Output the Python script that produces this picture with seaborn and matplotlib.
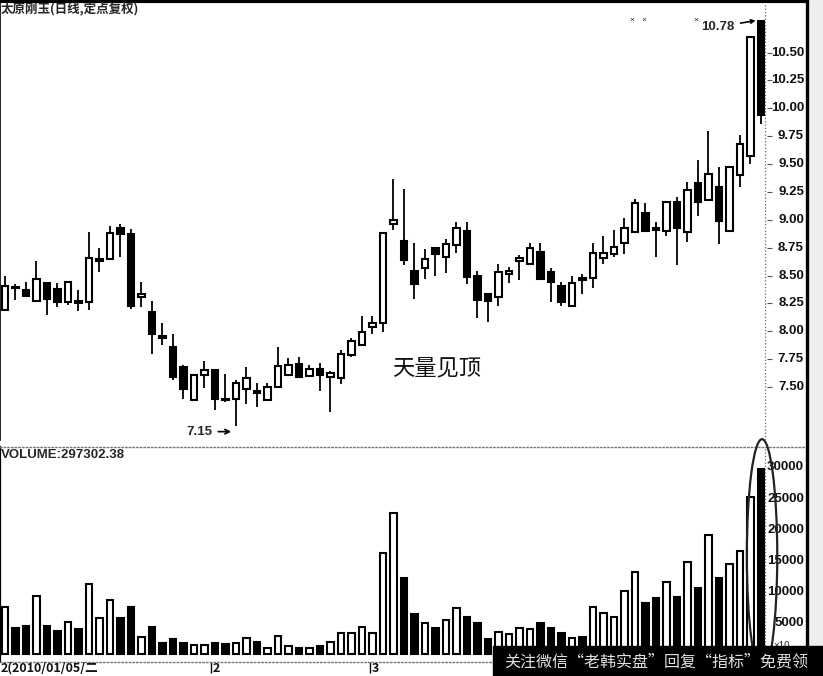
import numpy as np
import pandas as pd
import seaborn as sns
import matplotlib.pyplot as plt
from matplotlib import transforms
from matplotlib.patches import Ellipse, Rectangle
from matplotlib.lines import Line2D

sns.set_theme(style="white")
plt.rcParams['font.family'] = ['Noto Sans CJK SC', 'DejaVu Sans']

# daily bars (73 trading days)
opens = [8.19, 8.40, 8.37, 8.27, 8.43, 8.38, 8.26, 8.27, 8.26, 8.63,
         8.65, 8.93, 8.87, 8.31, 8.17, 7.96, 7.86, 7.68, 7.38, 7.61,
         7.65, 7.39, 7.39, 7.48, 7.46, 7.38, 7.50, 7.61, 7.71, 7.60,
         7.66, 7.59, 7.58, 7.79, 7.88, 8.04, 8.07, 8.96, 8.81, 8.54,
         8.57, 8.75, 8.67, 8.77, 8.90, 8.50, 8.33, 8.31, 8.51, 8.63,
         8.60, 8.71, 8.53, 8.41, 8.23, 8.48, 8.48, 8.66, 8.69, 8.79,
         8.89, 9.06, 8.93, 8.90, 9.16, 8.89, 9.33, 9.18, 9.29, 8.90,
         9.40, 9.57, 10.78]
highs = [8.50, 8.42, 8.44, 8.63, 8.43, 8.43, 8.44, 8.37, 8.89, 8.75,
         8.94, 8.96, 8.92, 8.44, 8.27, 8.07, 7.98, 7.70, 7.61, 7.73,
         7.65, 7.62, 7.56, 7.68, 7.54, 7.54, 7.86, 7.76, 7.77, 7.70,
         7.72, 7.64, 7.83, 7.94, 8.14, 8.14, 8.88, 9.37, 9.28, 8.79,
         8.74, 8.75, 8.83, 8.98, 8.98, 8.54, 8.33, 8.60, 8.58, 8.68,
         8.79, 8.79, 8.57, 8.44, 8.50, 8.51, 8.79, 8.85, 8.91, 9.02,
         9.19, 9.15, 8.98, 9.17, 9.20, 9.34, 9.54, 9.80, 9.47, 9.47,
         9.76, 10.64, 10.78]
lows = [8.18, 8.28, 8.31, 8.27, 8.15, 8.22, 8.24, 8.18, 8.19, 8.53,
        8.64, 8.67, 8.20, 8.22, 7.80, 7.88, 7.56, 7.39, 7.38, 7.49,
        7.29, 7.37, 7.15, 7.35, 7.32, 7.38, 7.50, 7.61, 7.59, 7.60,
        7.46, 7.28, 7.53, 7.77, 7.88, 7.98, 7.99, 8.91, 8.59, 8.29,
        8.47, 8.50, 8.52, 8.70, 8.42, 8.12, 8.08, 8.23, 8.43, 8.46,
        8.60, 8.47, 8.26, 8.23, 8.23, 8.33, 8.39, 8.60, 8.67, 8.69,
        8.88, 8.89, 8.67, 8.85, 8.59, 8.80, 9.03, 9.18, 8.78, 8.90,
        9.29, 9.50, 9.86]
closes = [8.41, 8.39, 8.32, 8.47, 8.29, 8.26, 8.44, 8.25, 8.66, 8.65,
          8.88, 8.87, 8.23, 8.33, 7.98, 7.94, 7.59, 7.48, 7.61, 7.65,
          7.39, 7.38, 7.54, 7.58, 7.45, 7.50, 7.69, 7.70, 7.59, 7.66,
          7.61, 7.63, 7.80, 7.91, 7.99, 8.07, 8.88, 9.00, 8.64, 8.42,
          8.65, 8.69, 8.78, 8.93, 8.49, 8.28, 8.27, 8.53, 8.54, 8.66,
          8.75, 8.47, 8.44, 8.26, 8.43, 8.46, 8.70, 8.70, 8.76, 8.93,
          9.15, 8.90, 8.91, 9.16, 8.93, 9.27, 9.16, 9.41, 8.99, 9.47,
          9.68, 10.64, 9.94]
# volume in units of 10 lots
volumes = [7580, 4190, 4510, 9350, 4510, 3710, 5160, 4030, 11290, 5800,
           8710, 5800, 7580, 2740, 4350, 1770, 2420, 1770, 1450, 1450,
           1770, 1610, 1770, 2580, 1930, 970, 2900, 1290, 970, 970,
           1290, 1930, 3380, 3380, 4350, 3380, 16290, 22740, 12260, 6450,
           5000, 4190, 5480, 7420, 5970, 5000, 2420, 3550, 3220, 4190,
           4030, 5000, 4190, 3380, 2580, 2740, 7580, 6610, 5970, 10160,
           13220, 8220, 9030, 11610, 9190, 14840, 10640, 19190, 12260, 14510,
           16610, 25320, 29730]

price_ticks = [7.50, 7.75, 8.00, 8.25, 8.50, 8.75, 9.00, 9.25, 9.50, 9.75, 10.00, 10.25, 10.50]
vol_ticks = [5000, 10000, 15000, 20000, 25000, 30000]
month_labels = ["2(2010/01/05/二", "2", "3"]
month_pos = [-0.45, 19.8, 34.9]

df = pd.DataFrame({"day": np.arange(len(opens)), "open": opens, "high": highs,
                   "low": lows, "close": closes, "volume": volumes})
df["kind"] = np.where(df["close"] >= df["open"], "up", "down")

W, H = 823, 676
fig = plt.figure(figsize=(W / 100, H / 100), dpi=100)
fig.patch.set_facecolor("white")


def px_axes(x0, y0, x1, y1):
    return fig.add_axes([x0 / W, 1 - y1 / H, (x1 - x0) / W, (y1 - y0) / H])


ax = px_axes(0, 3, 807, 440)
axv = px_axes(0, 447, 807, 662)
xlim = (-5 / 10.5, 802 / 10.5)
num = "Liberation Sans"

# candles
ax.vlines(df["day"], df["low"], df["high"], color="black", lw=1.3, zorder=1)
body_lo = np.minimum(df["open"], df["close"])
body_h = np.maximum((df["close"] - df["open"]).abs(), 0.006)
ax.bar(df["day"], body_h, bottom=body_lo, width=0.62,
       color=np.where(df["kind"] == "up", "white", "black"),
       edgecolor="black", linewidth=1.5, zorder=2)
ax.set_xlim(xlim)
ax.set_ylim(7.025, 10.944)
ax.set_xticks([])
ax.set_yticks([])
for s in ["top", "right", "bottom"]:
    ax.spines[s].set_visible(False)
ax.spines["left"].set_color("black")
ax.spines["left"].set_linewidth(1.2)
ax.axvline(72.4, ls=":", color="#666", lw=0.9)

tr = transforms.blended_transform_factory(ax.transAxes, ax.transData)
for t in price_ticks:
    ax.text(804 / 807, t, f"{t:.2f}", transform=tr, ha="right", va="center",
            fontsize=9.5, fontweight="bold", family=num, color="#111")
ax.hlines(price_ticks, 72.6, 73.05, color="#555", lw=0.8)

ax.annotate("10.78", xy=(71.75, 10.79), xytext=(67.9, 10.73), ha="center", va="center",
            fontsize=9.5, fontweight="bold", family=num,
            arrowprops=dict(arrowstyle="->", color="black", lw=1.2, mutation_scale=6))
ax.annotate("7.15", xy=(21.8, 7.10), xytext=(18.5, 7.10), ha="center", va="center",
            fontsize=9.5, fontweight="bold", family=num,
            arrowprops=dict(arrowstyle="->", color="black", lw=1.2, mutation_scale=8))
for xm in [59.7, 60.8, 65.8]:
    ax.text(xm, 10.79, "×", fontsize=6, ha="center", va="center", family=num)
ax.text(41.1, 7.67, "天量见顶", fontsize=16, ha="center", va="center", color="#111")

# volume bars
sns.barplot(data=df, x="day", y="volume", hue="kind",
            palette={"up": "white", "down": "black"}, native_scale=True,
            width=0.62, dodge=False, saturation=1, edgecolor="black",
            linewidth=1.5, errorbar=None, legend=False, ax=axv)
axv.set_xlim(xlim)
axv.set_ylim(-1286, 33290)
axv.set_xticks([])
axv.set_yticks([])
axv.set_xlabel("")
axv.set_ylabel("")
axv.spines["right"].set_visible(False)
for s in ["top", "bottom"]:
    axv.spines[s].set_linestyle(":")
    axv.spines[s].set_color("#777")
    axv.spines[s].set_linewidth(1.0)
axv.spines["left"].set_color("black")
axv.spines["left"].set_linewidth(1.6)
axv.axvline(72.4, ls=":", color="#666", lw=0.9)

trv = transforms.blended_transform_factory(axv.transAxes, axv.transData)
for t in vol_ticks:
    axv.text(804 / 807, t, str(t), transform=trv, ha="right", va="center",
             fontsize=9.5, fontweight="bold", family=num, color="#111")
axv.text(773 / 807, 1300, "×10", transform=trv, ha="left", va="center",
         fontsize=7, family=num)
axv.add_patch(Ellipse((72.1, 15800), width=2.9, height=37500, fill=False,
                      ec="#222", lw=1.6, clip_on=False, zorder=5))

# month marks under the volume panel
trd = transforms.blended_transform_factory(axv.transData, fig.transFigure)
for xm, lab in zip(month_pos, month_labels):
    axv.vlines(xm - 0.15, -3000, -1300, color="black", lw=1.0, clip_on=False)
    axv.text(xm, 1 - 668 / H, lab, transform=trd, ha="left", va="center",
             fontsize=9, fontweight="bold", color="#111")

# frame pieces and texts outside the axes
fig.add_artist(Rectangle((807 / W, 0), 16 / W, 1, transform=fig.transFigure,
                         color="#eeeeee", zorder=0))
fig.add_artist(Line2D([807 / W, 807 / W], [0, 1], transform=fig.transFigure,
                      color="black", lw=2.4))
fig.add_artist(Line2D([0, 807 / W], [1 - 1.2 / H, 1 - 1.2 / H], transform=fig.transFigure,
                      color="black", lw=3))
fig.text(1 / W, 1 - 9 / H, "太原刚玉(日线,定点复权)", fontsize=9, fontweight="bold",
         ha="left", va="center")
fig.text(1 / W, 1 - 455 / H, "VOLUME:297302.38", fontsize=9.5, fontweight="bold",
         family=num, ha="left", va="center")

# watermark banner at the bottom right
fig.add_artist(Rectangle((493 / W, 0), 330 / W, 30 / H, transform=fig.transFigure,
                         color="black", zorder=10))
fig.text(656 / W, 1 - 662 / H, "关注微信“老韩实盘”回复“指标”免费领", fontsize=11.5,
         color="#e0e0e0", ha="center", va="center", zorder=11)

fig.savefig("out.png", dpi=100)
